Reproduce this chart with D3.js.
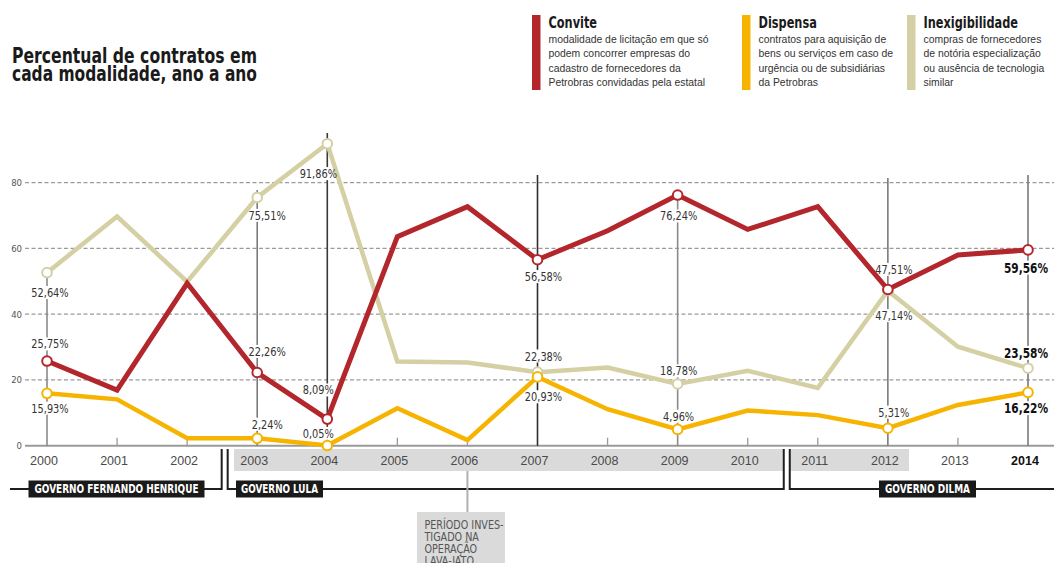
<!DOCTYPE html>
<html>
<head>
<meta charset="utf-8">
<script src="https://cdn.jsdelivr.net/npm/d3@7"></script>
<style>
  html, body { margin: 0; padding: 0; background: #fff; }
  svg { display: block; }
  .narrow { font-family: "Liberation Sans Narrow", "DejaVu Sans Condensed", "Arial Narrow", sans-serif; }
</style>
</head>
<body>
<svg id="chart" width="1054" height="563"></svg>
<script>
// ---------------- DATA ----------------
const years = [2000, 2001, 2002, 2003, 2004, 2005, 2006, 2007, 2008, 2009, 2010, 2011, 2012, 2013, 2014];
const convite = [25.75, 16.9, 49.4, 22.26, 8.09, 63.6, 72.7, 56.58, 65.4, 76.24, 65.8, 72.7, 47.51, 58.0, 59.56];
const dispensa = [15.93, 14.1, 2.25, 2.24, 0.05, 11.4, 1.7, 20.93, 11.1, 4.96, 10.7, 9.3, 5.31, 12.4, 16.22];
const inexigibilidade = [52.64, 69.7, 49.9, 75.51, 91.86, 25.6, 25.3, 22.38, 23.8, 18.78, 22.8, 17.6, 47.14, 30.1, 23.58];
const labeledYears = [2000, 2003, 2004, 2007, 2009, 2012, 2014];
const yTicks = [0, 20, 40, 60, 80];
const seriesNames = ["Convite", "Dispensa", "Inexigibilidade"];
const seriesDescriptions = [
  ["modalidade de licitação em que só", "podem concorrer empresas do", "cadastro de fornecedores da", "Petrobras convidadas pela estatal"],
  ["contratos para aquisição de", "bens ou serviços em caso de", "urgência ou de subsidiárias", "da Petrobras"],
  ["compras de fornecedores", "de notória especialização", "ou ausência de tecnologia", "similar"]
];
const governments = ["GOVERNO FERNANDO HENRIQUE", "GOVERNO LULA", "GOVERNO DILMA"];
const governmentYears = [[2000, 2002], [2003, 2010], [2011, 2014]];
const title = ["Percentual de contratos em", "cada modalidade, ano a ano"];
const noteLines = ["PERÍODO INVES-", "TIGADO NA", "OPERAÇÃO", "LAVA-JATO"];
const noteYear = 2006;

// ---------------- STYLE ----------------
const colors = { Convite: "#b3262c", Dispensa: "#f6b300", Inexigibilidade: "#d5cfa4" };
const svg = d3.select("#chart");
const x = d3.scaleLinear().domain([2000, 2014]).range([47, 1028]);
const y = d3.scaleLinear().domain([0, 80]).range([445.7, 182.7]);
const fmt = v => d3.format(".2f")(v).replace(".", ",") + "%";

// condense helpers (emulate a condensed typeface)
function fitWidth(sel, w) {
  sel.attr("textLength", w).attr("lengthAdjust", "spacingAndGlyphs");
}
function squeeze(sel, f) {
  sel.each(function () {
    const n = this.getComputedTextLength();
    d3.select(this).attr("textLength", n * f).attr("lengthAdjust", "spacingAndGlyphs");
  });
}

// label placement (style): dy relative to marker, dx per year
const yearDx = { 2000: 3, 2003: 10, 2004: -9, 2007: 6, 2009: 1, 2012: 6, 2014: -2 };
const place = {
  Convite:         { 2000: -17, 2003: -21, 2004: -29, 2007: 17, 2009: 21, 2012: -20, 2014: 18 },
  Dispensa:        { 2000: 15, 2003: -14, 2004: -12, 2007: 20, 2009: -13, 2012: -16, 2014: 16 },
  Inexigibilidade: { 2000: 20, 2003: 18, 2004: 30, 2007: -16, 2009: -13, 2012: 25, 2014: -15 }
};
const vlineTop = { 2000: null, 2003: 190, 2004: 133, 2007: 175, 2009: null, 2012: 178, 2014: 175 };
const vlineColor = { 2000: "#8a8a8a", 2003: "#7a7a7a", 2004: "#3a3a3a", 2007: "#2e2e2e", 2009: "#8a8a8a", 2012: "#7a7a7a", 2014: "#7a7a7a" };

const series = [
  { name: "Inexigibilidade", values: inexigibilidade, width: 4.5 },
  { name: "Dispensa", values: dispensa, width: 4.5 },
  { name: "Convite", values: convite, width: 5 }
];

// ---------------- TITLE ----------------
const titleT = svg.append("g").selectAll("text").data(title).join("text")
  .attr("class", "narrow")
  .attr("x", 12).attr("y", (d, i) => 62.5 + i * 18.5)
  .attr("font-size", 20.5).attr("font-weight", "bold").attr("fill", "#1a1a1a")
  .text(d => d);
fitWidth(titleT, 245);

// ---------------- LEGEND ----------------
const legendX = [532, 742, 907];
seriesNames.forEach((name, i) => {
  const g = svg.append("g").attr("transform", `translate(${legendX[i]},0)`);
  g.append("rect").attr("x", 0).attr("y", 15).attr("width", 8.5).attr("height", 75).attr("fill", colors[name]);
  const t = g.append("text").attr("class", "narrow").attr("x", 16.5).attr("y", 28)
    .attr("font-size", 15).attr("font-weight", "bold").attr("fill", "#1a1a1a").text(name);
  squeeze(t, 0.84);
  g.selectAll("text.desc").data(seriesDescriptions[i]).join("text")
    .attr("class", "desc")
    .attr("x", 16.5).attr("y", (d, j) => 42.5 + j * 14.5)
    .attr("font-family", "'Liberation Sans', Arial, sans-serif")
    .attr("font-size", 10.4).attr("fill", "#333").text(d => d);
});

// ---------------- GRID ----------------
const grid = svg.append("g");
grid.selectAll("line").data(yTicks.filter(t => t > 0)).join("line")
  .attr("x1", 25).attr("x2", 1054).attr("y1", d => y(d)).attr("y2", d => y(d))
  .attr("stroke", "#9a9a9a").attr("stroke-width", 1.3).attr("stroke-dasharray", "4,2.5");
grid.append("line").attr("x1", 25).attr("x2", 1054).attr("y1", y(0)).attr("y2", y(0))
  .attr("stroke", "#9a9a9a").attr("stroke-width", 2);
svg.append("g").selectAll("text").data(yTicks).join("text")
  .attr("class", "narrow")
  .attr("x", 22).attr("y", d => y(d)).attr("dy", "0.35em").attr("text-anchor", "end")
  .attr("font-size", 9.5).attr("fill", "#555").text(d => d);

// small ticks
svg.append("g").selectAll("line").data(years.filter(yr => !labeledYears.includes(yr))).join("line")
  .attr("x1", d => x(d)).attr("x2", d => x(d)).attr("y1", y(0)).attr("y2", y(0) - 8)
  .attr("stroke", "#9a9a9a").attr("stroke-width", 1.3);

// ---------------- VERTICAL ANNOTATION LINES ----------------
svg.append("g").selectAll("line").data(labeledYears).join("line")
  .attr("x1", d => x(d)).attr("x2", d => x(d))
  .attr("y1", d => {
    if (vlineTop[d] !== null) return vlineTop[d];
    const idx = years.indexOf(d);
    return y(Math.max(convite[idx], dispensa[idx], inexigibilidade[idx]));
  })
  .attr("y2", y(0))
  .attr("stroke", d => vlineColor[d]).attr("stroke-width", 1.6);

const labelBg = svg.append("g");

// ---------------- AXIS BAND / YEARS ----------------
svg.append("rect").attr("x", 234).attr("y", 449).attr("width", 909 - 234).attr("height", 22).attr("fill", "#dadada");
svg.append("rect").attr("x", 784).attr("y", 449).attr("width", 6).attr("height", 22).attr("fill", "#fff");

svg.append("g").selectAll("text").data(years).join("text")
  .attr("x", d => x(d) - 3).attr("y", 461).attr("dy", "0.35em").attr("text-anchor", "middle")
  .attr("font-family", "'Liberation Sans', Arial, sans-serif")
  .attr("font-size", 12.5)
  .attr("font-weight", d => d === 2014 ? "bold" : "normal")
  .attr("fill", d => d === 2014 ? "#111" : "#4a4a4a")
  .text(d => d);

// ---------------- GOVERNMENT BRACKETS ----------------
const brY = 489, brTop = 449;
const br = svg.append("g").attr("fill", "none").attr("stroke", "#1e1e1e").attr("stroke-width", 2);
const sepFH = (x(governmentYears[0][1]) + x(governmentYears[1][0])) / 2;
const sepLD = (x(governmentYears[1][1]) + x(governmentYears[2][0])) / 2;
br.append("path").attr("d", `M10,${brY}H${sepFH - 0.5}V${brTop}`);
br.append("path").attr("d", `M${sepFH + 5.5},${brTop}V${brY}H${sepLD + 1}V${brTop}`);
br.append("path").attr("d", `M${sepLD + 7},${brTop}V${brY}H1054`);

const govBoxes = [{ x: 28.5, w: 176, tw: 164 }, { x: 236, w: 87, tw: 77 }, { x: 879, w: 97, tw: 85 }];
governments.forEach((g, i) => {
  svg.append("rect").attr("x", govBoxes[i].x).attr("y", 480.5).attr("width", govBoxes[i].w).attr("height", 17).attr("fill", "#1a1a1a");
  const t = svg.append("text").attr("class", "narrow")
    .attr("x", govBoxes[i].x + govBoxes[i].w / 2).attr("y", 489).attr("dy", "0.36em")
    .attr("text-anchor", "middle").attr("font-size", 12).attr("font-weight", "bold")
    .attr("fill", "#fff").text(g);
  fitWidth(t, govBoxes[i].tw);
});

// ---------------- LAVA JATO NOTE ----------------
svg.append("line").attr("x1", x(noteYear)).attr("x2", x(noteYear)).attr("y1", 471).attr("y2", 512)
  .attr("stroke", "#b0b0b0").attr("stroke-width", 2);
svg.append("rect").attr("x", 417).attr("y", 512).attr("width", 88).attr("height", 60).attr("fill", "#dadada");
const noteT = svg.append("g").selectAll("text").data(noteLines).join("text")
  .attr("class", "narrow")
  .attr("x", 424.5).attr("y", (d, i) => 529 + i * 12)
  .attr("font-size", 11.5).attr("fill", "#555").text(d => d);
{
  const n0 = noteT.node().getComputedTextLength();
  squeeze(noteT, 79 / n0);
}

// ---------------- SERIES ----------------
const line = d3.line().x((d, i) => x(years[i])).y(d => y(d));
svg.append("g").selectAll("path").data(series).join("path")
  .attr("d", s => line(s.values))
  .attr("fill", "none").attr("stroke", s => colors[s.name])
  .attr("stroke-width", s => s.width).attr("stroke-linejoin", "miter");

// markers
series.forEach(s => {
  svg.append("g").selectAll("circle").data(labeledYears).join("circle")
    .attr("cx", d => x(d)).attr("cy", d => y(s.values[years.indexOf(d)]))
    .attr("r", 4.8).attr("fill", "#fff")
    .attr("stroke", colors[s.name]).attr("stroke-width", 2);
});

// labels
const labelG = svg.append("g");
series.forEach(s => {
  labeledYears.forEach(yr => {
    const v = s.values[years.indexOf(yr)];
    const t = labelG.append("text").attr("class", "narrow")
      .attr("x", x(yr) + yearDx[yr]).attr("y", y(v) + place[s.name][yr]).attr("dy", "0.35em")
      .attr("text-anchor", "middle")
      .attr("font-size", yr === 2014 ? 13.5 : 12.5)
      .attr("font-weight", yr === 2014 ? "bold" : "normal")
      .attr("fill", yr === 2014 ? "#111" : "#333")
      .text(fmt(v));
    squeeze(t, 0.87);
    const bb = t.node().getBBox();
    labelBg.append("rect").attr("x", bb.x - 1).attr("y", bb.y + 1).attr("width", bb.width + 2).attr("height", bb.height - 2).attr("fill", "#fff");
  });
});
</script>
</body>
</html>
